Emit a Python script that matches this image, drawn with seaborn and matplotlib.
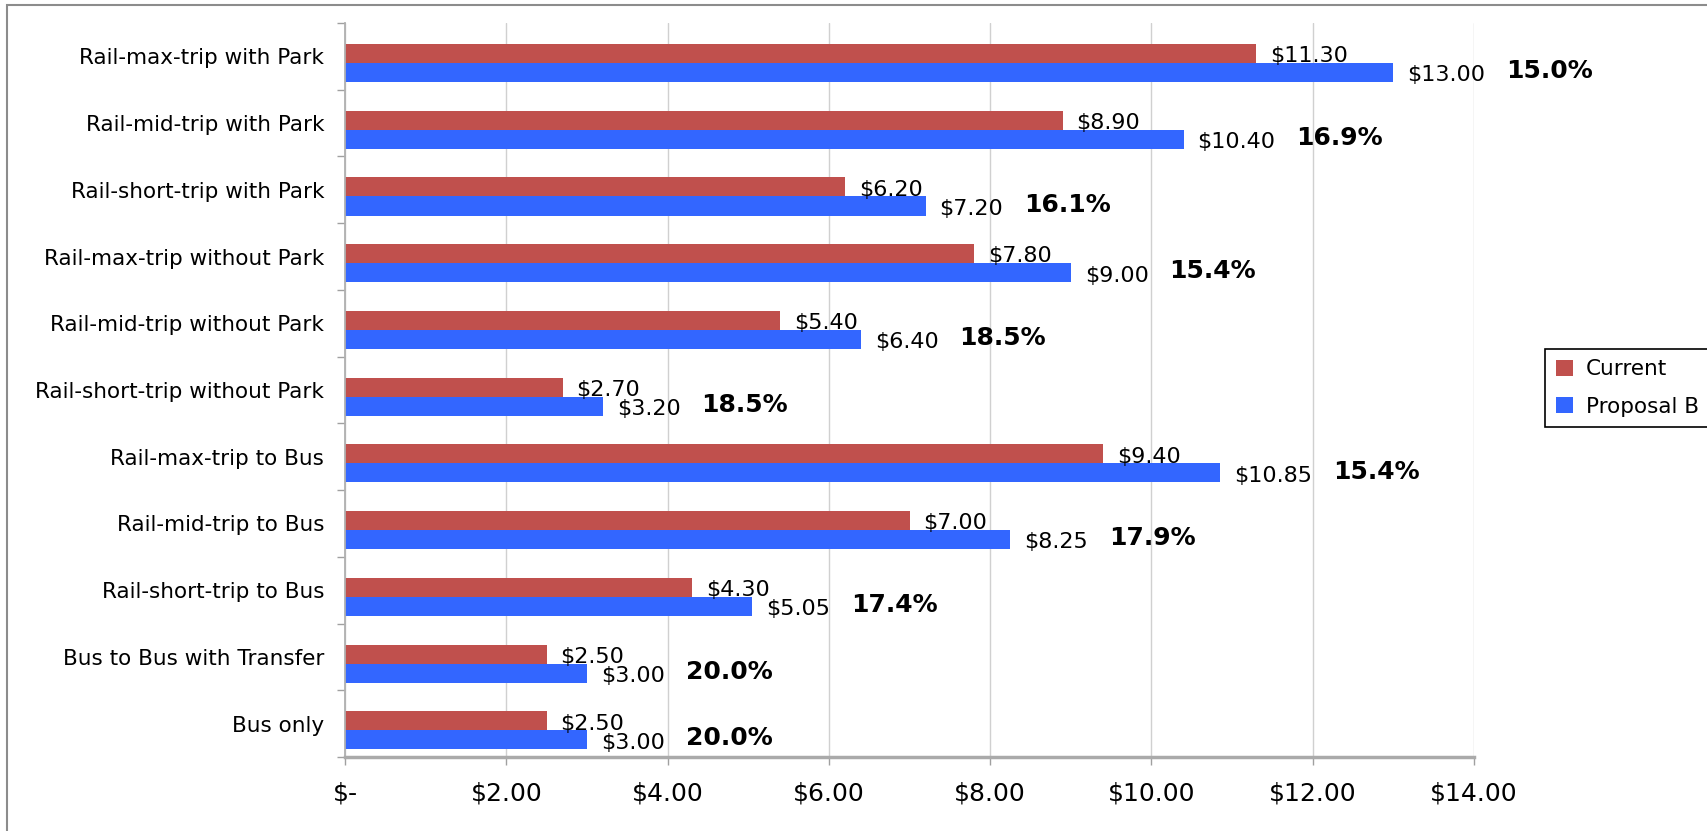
import numpy as np
import pandas as pd
import matplotlib.pyplot as plt
import seaborn as sns
from matplotlib.patches import Rectangle
from matplotlib.ticker import FuncFormatter

routes = ['Rail-max-trip with Park', 'Rail-mid-trip with Park', 'Rail-short-trip with Park',
          'Rail-max-trip without Park', 'Rail-mid-trip without Park', 'Rail-short-trip without Park',
          'Rail-max-trip to Bus', 'Rail-mid-trip to Bus', 'Rail-short-trip to Bus',
          'Bus to Bus with Transfer', 'Bus only']
current = [11.30, 8.90, 6.20, 7.80, 5.40, 2.70, 9.40, 7.00, 4.30, 2.50, 2.50]
proposal_b = [13.00, 10.40, 7.20, 9.00, 6.40, 3.20, 10.85, 8.25, 5.05, 3.00, 3.00]
increase = ['15.0%', '16.9%', '16.1%', '15.4%', '18.5%', '18.5%', '15.4%', '17.9%', '17.4%',
            '20.0%', '20.0%']
series = ['Current', 'Proposal B']
colors = {'Current': '#C0504D', 'Proposal B': '#3366FF'}

df = pd.DataFrame({
    'route': routes * 2,
    'fare': current + proposal_b,
    'series': ['Current'] * len(routes) + ['Proposal B'] * len(routes),
})

sns.set_style('white')
plt.rcParams['font.family'] = ['DejaVu Sans']
plt.rcParams['text.color'] = 'black'
plt.rcParams['xtick.labelcolor'] = 'black'
plt.rcParams['ytick.labelcolor'] = 'black'

W, H = 1707, 831
fig = plt.figure(figsize=(W / 100, H / 100), dpi=100)
ax = fig.add_axes([345 / W, 1 - 757 / H, (1474 - 345) / W, (757 - 23) / H])

sns.barplot(data=df, y='route', x='fare', hue='series', hue_order=series, order=routes,
            palette=colors, orient='h', width=0.57, saturation=1, linewidth=0, ax=ax)

# bars sit a little below the slot centre in the original
n = len(routes)
ax.set_ylim(n - 0.6, -0.6)
ax.set_yticks([i - 0.1 for i in range(n)], labels=routes)
ax.set_yticks([i - 0.6 for i in range(n + 1)], minor=True)
ax.tick_params(axis='y', which='major', length=0, pad=15, labelsize=15.5, labelcolor='black')
ax.tick_params(axis='y', which='minor', length=6, width=1, color='#A0A0A0', left=True)

ax.set_xlim(0, 14)
ax.set_xticks(np.arange(0, 15, 2))
ax.xaxis.set_major_formatter(FuncFormatter(lambda v, p: '$-' if v == 0 else f'${v:,.2f}'))
ax.tick_params(axis='x', length=6, width=1, color='#A0A0A0', pad=12, labelsize=18,
               labelcolor='black', bottom=True)

ax.grid(axis='x', color='#D0D0D0', lw=1)
ax.set_axisbelow(True)
for s in ['top', 'right']:
    ax.spines[s].set_visible(False)
ax.spines['left'].set_color('#B0B0B0')
ax.spines['left'].set_linewidth(1.3)
ax.spines['bottom'].set_color('#AAAAAA')
ax.spines['bottom'].set_linewidth(2.5)
ax.set_xlabel('')
ax.set_ylabel('')

# value labels
blue_labels = []
for k, cont in enumerate(ax.containers[:2]):
    for bar in cont:
        w = bar.get_width()
        yc = bar.get_y() + bar.get_height() / 2
        t = ax.annotate(f'${w:,.2f}', xy=(w, yc), xytext=(10, -2), textcoords='offset points',
                        ha='left', va='center', fontsize=16, color='black')
        if k == 1:
            blue_labels.append(t)

# percentage increase next to the Proposal B label
for t, pct in zip(blue_labels, increase):
    ax.annotate(pct, xy=(1, 0.5), xycoords=t, xytext=(15, 3), textcoords='offset points',
                ha='left', va='center', fontsize=18, fontweight='bold', color='black')

handles, labels = ax.get_legend_handles_labels()
if ax.get_legend() is not None:
    ax.get_legend().remove()
leg = fig.legend(handles, labels, loc='center left', bbox_to_anchor=(1545 / W, 1 - 388 / H),
                 frameon=True, fancybox=False, edgecolor='black', framealpha=1,
                 fontsize=15.5, handlelength=0.8, handleheight=0.8, handletextpad=0.6,
                 labelspacing=0.8, borderpad=0.5, borderaxespad=0, labelcolor='black')
leg.get_frame().set_linewidth(1.2)

# chart border (right and bottom fall outside the picture)
fig.add_artist(Rectangle((7 / W, -0.1), 1.2, 1.1 - 4.5 / H, transform=fig.transFigure,
                         fill=False, edgecolor='#8C8C8C', lw=1.5, clip_on=False))

fig.savefig('out.png', dpi=100)
